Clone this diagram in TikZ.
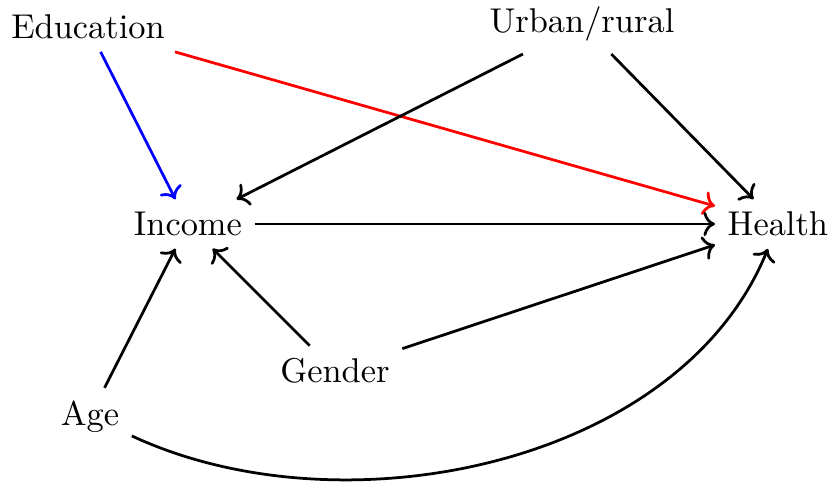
\documentclass[tikz,border=0pt]{standalone}
\usepackage{tikz}
\usetikzlibrary{arrows.meta, positioning}

\begin{document}
\begin{tikzpicture}[
    var/.style={inner sep=3.5pt},
    arrow/.style={->, thick},
]
    \useasboundingbox (0,0) rectangle (8.5,4.954);
    \node[var] (edu) at (0.899,4.678) {Education};
    \node[var] (urban) at (5.945,4.708) {Urban/rural};
    \node[var] (income) at (1.920,2.666) {Income};
    \node[var] (health) at (7.947,2.666) {Health};
    \node[var] (gender) at (3.422,1.164) {Gender};
    \node[var] (age) at (0.919,0.700) {Age};

    \draw[arrow, blue] (edu) -- (income);
    \draw[arrow, red] (edu) -- (health);
    \draw[arrow] (urban) -- (income);
    \draw[arrow] (urban) -- (health);
    \draw[arrow] (income) -- (health);
    \draw[arrow] (gender) -- (income);
    \draw[arrow] (gender) -- (health);
    \draw[arrow] (age) -- (income);
    \draw[arrow] (age) to[out=-25, in=-112, looseness=0.9] (health);
\end{tikzpicture}
\end{document}
